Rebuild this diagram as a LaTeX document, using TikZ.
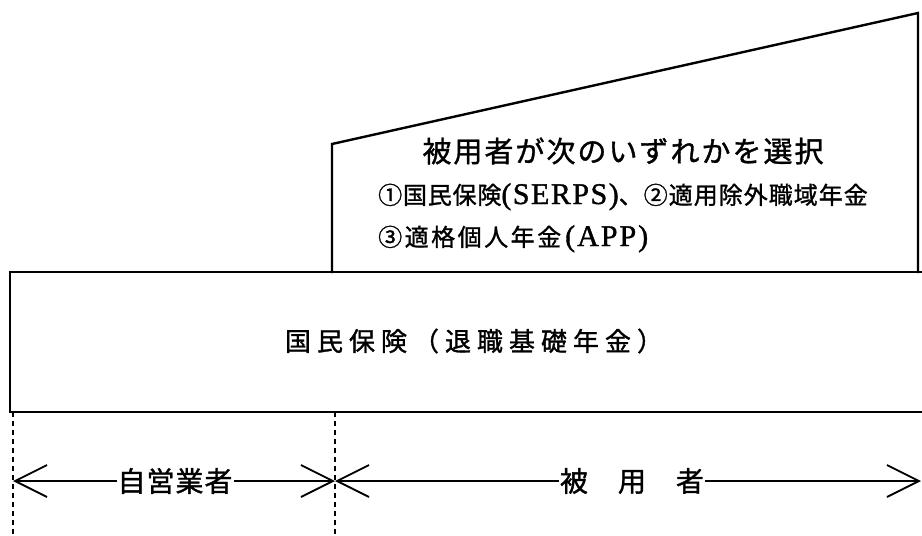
\documentclass[tikz,border=0pt]{standalone}
\usepackage{fontspec}
\setmainfont{Noto Sans CJK JP}[FakeBold=1.2]
\newfontfamily\latfont{Liberation Serif}[FakeBold=1.2]
\usetikzlibrary{arrows.meta}
\newdimen\lsdim
\def\ls#1#2{\lsdim=#1\relax\lsloop#2\relax\unkern}
\def\lsloop#1{\ifx\relax#1\else#1\kern\lsdim\expandafter\lsloop\fi}
\tikzset{
  frame/.style={line width=2.4pt, line join=miter},
  dotline/.style={line width=2.2pt, dash pattern=on 5pt off 4pt},
  span/.style={line width=1.8pt, {Straight Barb[length=32pt,width=32pt]}-{Straight Barb[length=32pt,width=32pt]}},
  lbl/.style={fill=white, inner sep=1pt},
  txt/.style={inner sep=0pt},
}
\begin{document}
\begin{tikzpicture}[x=1pt,y=-1pt]
\useasboundingbox (0,0) rectangle (922,536);
% upper shape
\coordinate (ub) at (332,273);
\coordinate (ul) at (332,144);
\coordinate (ur) at (918,13);
\coordinate (urb) at (918,273);
\draw[frame] (ub) -- (ul) -- (ur) -- (urb);
% main box
\coordinate (mtr) at (922,272);
\coordinate (mtl) at (10,272);
\coordinate (mbl) at (10,412);
\coordinate (mbr) at (922,412);
\draw[frame] (mtr) -- (mtl) -- (mbl) -- (mbr);
% dotted verticals
\coordinate (d1t) at (13,412);
\coordinate (d1b) at (13,536);
\coordinate (d2t) at (335,412);
\coordinate (d2b) at (335,536);
\draw[dotline] (d1t) -- (d1b);
\draw[dotline] (d2t) -- (d2b);
% span arrows
\coordinate (aL) at (13,481);
\coordinate (aM) at (335,481);
\coordinate (aR) at (921,481);
\draw[span] (aL) -- (aM);
\draw[span] (aM) -- (aR);
\node[lbl] (self) at (175,481) {\fontsize{28}{30}\selectfont\ls{1pt}{自営業者}};
\node[lbl] (emp) at (632,481) {\fontsize{28}{30}\selectfont\ls{1pt}{被　用　者}};
% texts
\node[txt] (main) at (474,341) {\fontsize{26}{28}\selectfont\ls{6pt}{国民保険（退職基礎年金）}};
\node[txt] (title) at (623,151) {\fontsize{29}{30}\selectfont\ls{2pt}{被用者が次のいずれかを選択}};
\node[txt, anchor=base west] (opt1) at (378,204) {\fontsize{24}{26}\selectfont\ls{0.8pt}{①国民保険}{\latfont\fontsize{30}{30}\selectfont\ls{1.5pt}{(SERPS)}}\ls{1pt}{、②適用除外職域年金}};
\node[txt, anchor=base west] (opt3) at (378,246) {\fontsize{24}{26}\selectfont\ls{2.5pt}{③適格個人年金}\kern4pt{\latfont\fontsize{30}{30}\selectfont\ls{2pt}{(APP)}}};
\end{tikzpicture}
\end{document}
